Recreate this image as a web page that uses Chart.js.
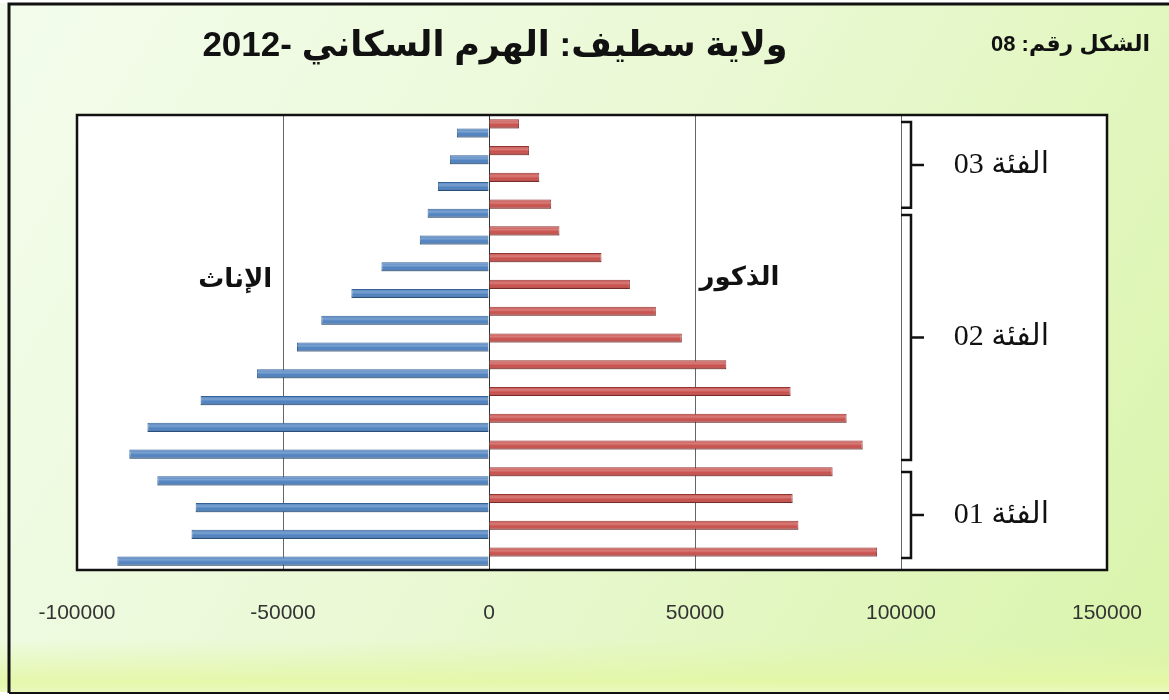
<!DOCTYPE html>
<html>
<head>
<meta charset="utf-8">
<script src="https://cdn.jsdelivr.net/npm/chart.js@4/dist/chart.umd.min.js"></script>
<style>
  html, body { margin: 0; padding: 0; background: #ffffff; }
  #wrap { width: 1169px; height: 700px; position: relative; }
  canvas { display: block; }
</style>
</head>
<body>
<div id="wrap"><canvas id="c" width="1169" height="700"></canvas></div>
<script>
// Age groups, top (oldest) to bottom (youngest)
const ageGroups = ["80+", "75-79", "70-74", "65-69", "60-64", "55-59", "50-54", "45-49", "40-44",
                   "35-39", "30-34", "25-29", "20-24", "15-19", "10-14", "5-9", "0-4"];
// Males (الذكور) – positive
const males = [7300, 9700, 12200, 15100, 17100, 27300, 34200, 40500, 46800,
               57600, 73200, 86800, 90700, 83400, 73700, 75100, 94200];
// Females (الإناث) – negative
const females = [-7800, -9500, -12400, -14900, -16800, -26100, -33400, -40700, -46600,
                 -56300, -70000, -82900, -87300, -80500, -71200, -72200, -90200];
// x-axis tick values
const xTicks = [-100000, -50000, 0, 50000, 100000, 150000];
// Bracket groups: label, first row index, last row index
const groupLabels = ["الفئة 03", "الفئة 02", "الفئة 01"];
const groupStart = [-0.24, 3.24, 12.84];
const groupEnd = [2.97, 12.39, 16.05];

const titleText = "ولاية سطيف: الهرم السكاني -2012";
const figText = "الشكل رقم: 08";
const femaleLabel = "الإناث";
const maleLabel = "الذكور";

const decor = {
  id: 'decor',
  beforeDraw(chart) {
    const ctx = chart.ctx;
    const W = chart.width, H = chart.height;
    ctx.save();
    const g = ctx.createLinearGradient(0, 0, W, H);
    g.addColorStop(0, '#f3fcec');
    g.addColorStop(0.45, '#ebf9d6');
    g.addColorStop(1, '#d9f4aa');
    ctx.fillStyle = g;
    ctx.fillRect(0, 0, W, H);
    const g2 = ctx.createLinearGradient(0, 640, 0, 692);
    g2.addColorStop(0, 'rgba(226,246,170,0)');
    g2.addColorStop(0.8, 'rgba(228,247,165,0.9)');
    g2.addColorStop(1, 'rgba(235,249,190,1)');
    ctx.fillStyle = g2;
    ctx.fillRect(0, 640, W, 52);
    ctx.fillStyle = '#ffffff';
    ctx.fillRect(0, 692, W, H - 692);
    ctx.fillRect(0, 0, W, 3);
    ctx.strokeStyle = '#111';
    ctx.lineWidth = 3;
    ctx.beginPath();
    ctx.moveTo(9, 693); ctx.lineTo(9, 4); ctx.lineTo(W + 5, 4);
    ctx.stroke();
    ctx.lineWidth = 2;
    ctx.beginPath();
    ctx.moveTo(9, 693); ctx.lineTo(W, 693);
    ctx.stroke();
    const a = chart.chartArea;
    ctx.fillStyle = '#ffffff';
    ctx.fillRect(a.left, a.top, a.right - a.left, a.bottom - a.top);
    ctx.fillStyle = '#111';
    ctx.direction = 'rtl';
    ctx.textBaseline = 'middle';
    ctx.textAlign = 'center';
    ctx.font = "bold 35px 'Liberation Sans', 'DejaVu Sans', sans-serif";
    ctx.fillText(titleText, 495, 46);
    ctx.textAlign = 'right';
    ctx.font = "bold 22px 'Liberation Sans', 'DejaVu Sans', sans-serif";
    ctx.fillText(figText, 1150, 45);
    ctx.restore();
  },
  afterDatasetsDraw(chart) {
    const ctx = chart.ctx;
    const a = chart.chartArea;
    const xs = chart.scales.x, ys = chart.scales.y;
    ctx.save();
    chart.data.datasets.forEach((ds, di) => {
      const meta = chart.getDatasetMeta(di);
      meta.data.forEach(el => {
        const p = el.getProps(['x', 'y', 'base', 'height'], true);
        const top = p.y - p.height / 2;
        const left = Math.min(p.x, p.base), w = Math.abs(p.x - p.base);
        const gr = ctx.createLinearGradient(0, top, 0, top + p.height);
        gr.addColorStop(0, 'rgba(255,255,255,0)');
        gr.addColorStop(0.35, 'rgba(255,255,255,0.25)');
        gr.addColorStop(0.6, 'rgba(255,255,255,0)');
        gr.addColorStop(1, 'rgba(0,0,0,0.25)');
        ctx.fillStyle = gr;
        ctx.fillRect(left, top, w, p.height);
      });
    });
    ctx.strokeStyle = '#111';
    ctx.lineWidth = 2.5;
    ctx.strokeRect(a.left, a.top, a.right - a.left, a.bottom - a.top);
    const xb = xs.getPixelForValue(100000);
    for (let i = 0; i < groupLabels.length; i++) {
      const y0 = ys.getPixelForValue(groupStart[i]);
      const y1 = ys.getPixelForValue(groupEnd[i]);
      const ym = (y0 + y1) / 2;
      ctx.beginPath();
      ctx.moveTo(xb, y0); ctx.lineTo(xb + 10, y0); ctx.lineTo(xb + 10, y1); ctx.lineTo(xb, y1);
      ctx.moveTo(xb + 10, ym); ctx.lineTo(xb + 23, ym);
      ctx.stroke();
      ctx.fillStyle = '#111';
      ctx.direction = 'rtl';
      ctx.textAlign = 'right';
      ctx.textBaseline = 'middle';
      ctx.font = "30px 'Liberation Serif', 'DejaVu Sans', serif";
      ctx.fillText(groupLabels[i], xb + 148, ym);
    }
    ctx.direction = 'rtl';
    ctx.textAlign = 'center';
    ctx.textBaseline = 'middle';
    ctx.font = "bold 26px 'Liberation Sans', 'DejaVu Sans', sans-serif";
    ctx.fillText(femaleLabel, xs.getPixelForValue(-61600), ys.getPixelForValue(5.65));
    ctx.fillText(maleLabel, xs.getPixelForValue(60800), ys.getPixelForValue(5.6));
    ctx.restore();
  }
};

new Chart(document.getElementById('c'), {
  type: 'bar',
  data: {
    labels: ageGroups,
    datasets: [
      {
        label: 'الذكور',
        data: males,
        backgroundColor: '#c9504c',
        borderColor: '#8e2e2b',
        borderWidth: 1,
        categoryPercentage: 0.68,
        barPercentage: 1.0
      },
      {
        label: 'الإناث',
        data: females,
        backgroundColor: '#4f82c0',
        borderColor: '#2d5c93',
        borderWidth: 1,
        categoryPercentage: 0.68,
        barPercentage: 1.0
      }
    ]
  },
  options: {
    indexAxis: 'y',
    responsive: false,
    animation: false,
    layout: { padding: { left: 77, right: 62, top: 115, bottom: 70 } },
    plugins: { legend: { display: false }, tooltip: { enabled: false }, title: { display: false } },
    scales: {
      x: {
        type: 'linear',
        min: -100000,
        max: 150000,
        afterFit: s => { s.height = 60; },
        afterBuildTicks: s => { s.ticks = xTicks.map(v => ({ value: v })); },
        ticks: {
          padding: 3,
          color: '#333',
          font: { family: "'Liberation Sans', sans-serif", size: 21 },
          callback: v => String(v)
        },
        grid: {
          drawTicks: true,
          tickLength: 28,
          tickColor: 'rgba(0,0,0,0)',
          color: c => (c.tick && c.tick.value === 0) ? '#333' : '#666',
          lineWidth: 1
        },
        border: { display: false }
      },
      y: {
        display: false,
        grid: { display: false }
      }
    }
  },
  plugins: [decor]
});
</script>
</body>
</html>
